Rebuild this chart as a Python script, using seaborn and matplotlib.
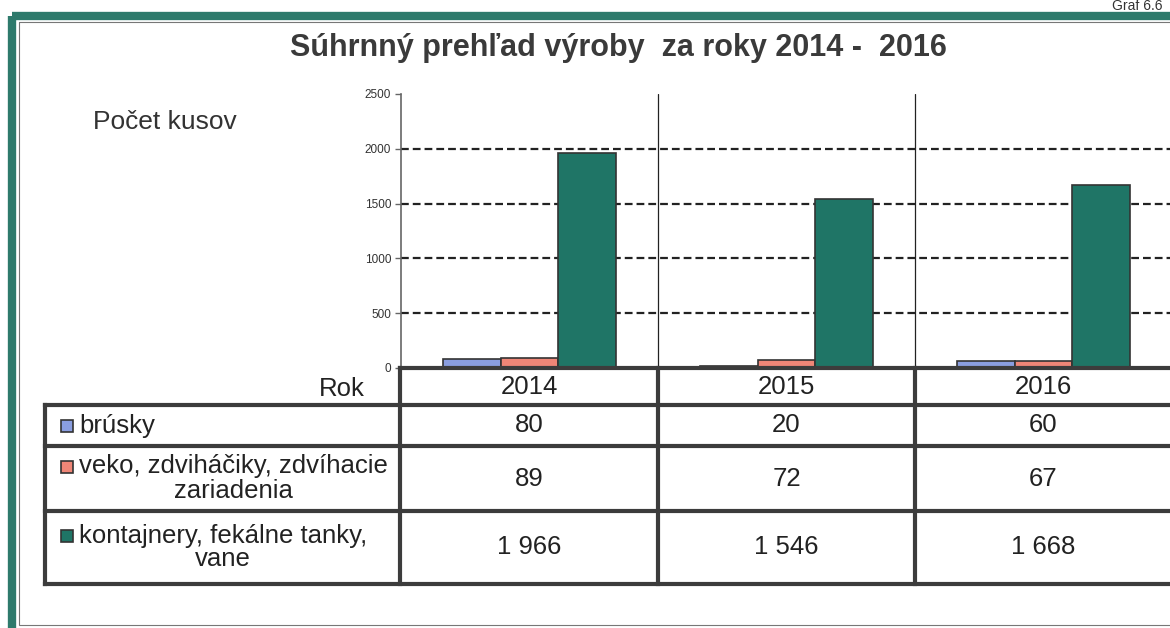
import matplotlib
matplotlib.use("Agg")
import matplotlib.pyplot as plt
import pandas as pd
import seaborn as sns
from matplotlib.patches import Rectangle

years = ["2014", "2015", "2016"]
series = ["brúsky", "veko, zdviháčiky, zdvíhacie\nzariadenia", "kontajnery, fekálne tanky,\nvane"]
brusky = [80, 20, 60]
veko = [89, 72, 67]
kontajnery = [1966, 1546, 1668]
colors = ["#8a9ee0", "#ef8677", "#1f7566"]
yticks = [0, 500, 1000, 1500, 2000, 2500]

W, H = 1170, 628
TEAL = "#2e7a6c"
LINE = "#3c3c3c"

df = pd.DataFrame({
    "rok": years * 3,
    "rada": [series[0]] * 3 + [series[1]] * 3 + [series[2]] * 3,
    "kusy": brusky + veko + kontajnery,
})

sns.set_theme(style="white")
plt.rcParams["font.family"] = ["Liberation Sans", "DejaVu Sans"]

fig = plt.figure(figsize=(W / 100, H / 100), dpi=100)

# chart area in pixel terms
ax_l, ax_r, ax_t, ax_b = 401, 1172, 94, 368
ax = fig.add_axes([ax_l / W, 1 - ax_b / H, (ax_r - ax_l) / W, (ax_b - ax_t) / H])
sns.barplot(data=df, x="rok", y="kusy", hue="rada", palette=colors, width=0.675,
            saturation=1, edgecolor="#333333", linewidth=1.2, legend=False, ax=ax, zorder=3)
ax.set_xlim(-0.5, 2.5)
ax.set_ylim(0, 2500)
ax.set_yticks(yticks)
ax.set_yticklabels([str(v) for v in yticks], fontsize=8.5, color="#333333")
ax.set_xticks([])
ax.set_xlabel("")
ax.set_ylabel("")
for v in yticks[1:-1]:
    ax.axhline(v, color="#222222", linestyle=(0, (3.5, 1.8)), linewidth=1.6, zorder=1)
for x in [0.5, 1.5]:
    ax.axvline(x, color="#222222", linewidth=0.9, zorder=2)
for s in ["top", "right", "bottom"]:
    ax.spines[s].set_visible(False)
ax.spines["left"].set_color("#666666")
ax.spines["left"].set_linewidth(1.2)
ax.tick_params(axis="y", length=4, width=1, color="#666666", pad=3, left=True)
ax.set_facecolor("none")

# overlay in pixel coordinates for frame, titles and data table
ov = fig.add_axes([0, 0, 1, 1], zorder=-1)
ov.set_xlim(0, W)
ov.set_ylim(H, 0)
ov.axis("off")

ov.add_patch(Rectangle((12, 16), W, H + 20, fill=False, edgecolor=TEAL, linewidth=6))
ov.add_patch(Rectangle((19, 22), W, H - 25, fill=False, edgecolor="#777777", linewidth=0.8))
ov.text(1112, 6, "Graf 6.6", fontsize=10, color="#333333", va="center", ha="left")

ov.text(618, 48, "Súhrnný prehľad výroby  za roky 2014 -  2016", fontsize=22,
        fontweight="bold", color="#3a3a3a", ha="center", va="center")
ov.text(93, 122, "Počet kusov", fontsize=19, color="#333333", ha="left", va="center")

# data table
ov2 = fig.add_axes([0, 0, 1, 1], zorder=5)
ov2.set_xlim(0, W)
ov2.set_ylim(H, 0)
ov2.axis("off")
cols = [400, 658, 915, 1172]
rows = [368, 405, 446, 511, 584]
tl = dict(color=LINE, linewidth=3, solid_capstyle="projecting")
ov2.plot([cols[0], cols[-1]], [rows[0], rows[0]], **tl)
for y in rows[1:]:
    ov2.plot([45, cols[-1]], [y, y], **tl)
for x in cols[:-1]:
    ov2.plot([x, x], [rows[0], rows[-1]], **tl)
ov2.plot([45, 45], [rows[1], rows[-1]], **tl)
fs = 18.5
ov2.text(365, 389, "Rok", fontsize=fs, color="#222222", ha="right", va="center")
for i, yr in enumerate(years):
    ov2.text((cols[i] + cols[i + 1]) / 2, 387, yr, fontsize=fs, color="#222222",
             ha="center", va="center")

values = [brusky, veko, kontajnery]
for r, (name, vals, c) in enumerate(zip(series, values, colors)):
    y0, y1 = rows[r + 1], rows[r + 2]
    ym = (y0 + y1) / 2
    ov2.text(79, ym, name, fontsize=fs, color="#222222", ha="left", va="center",
             multialignment="center", linespacing=1.0)
    ky = ym if "\n" not in name else ym - 12
    ov2.add_patch(Rectangle((61, ky - 6), 12, 12, facecolor=c, edgecolor="#333333", linewidth=1.2))
    for i, v in enumerate(vals):
        ov2.text((cols[i] + cols[i + 1]) / 2, ym, f"{v:,}".replace(",", " "), fontsize=fs,
                 color="#222222", ha="center", va="center")

fig.savefig("out.png", dpi=100)
